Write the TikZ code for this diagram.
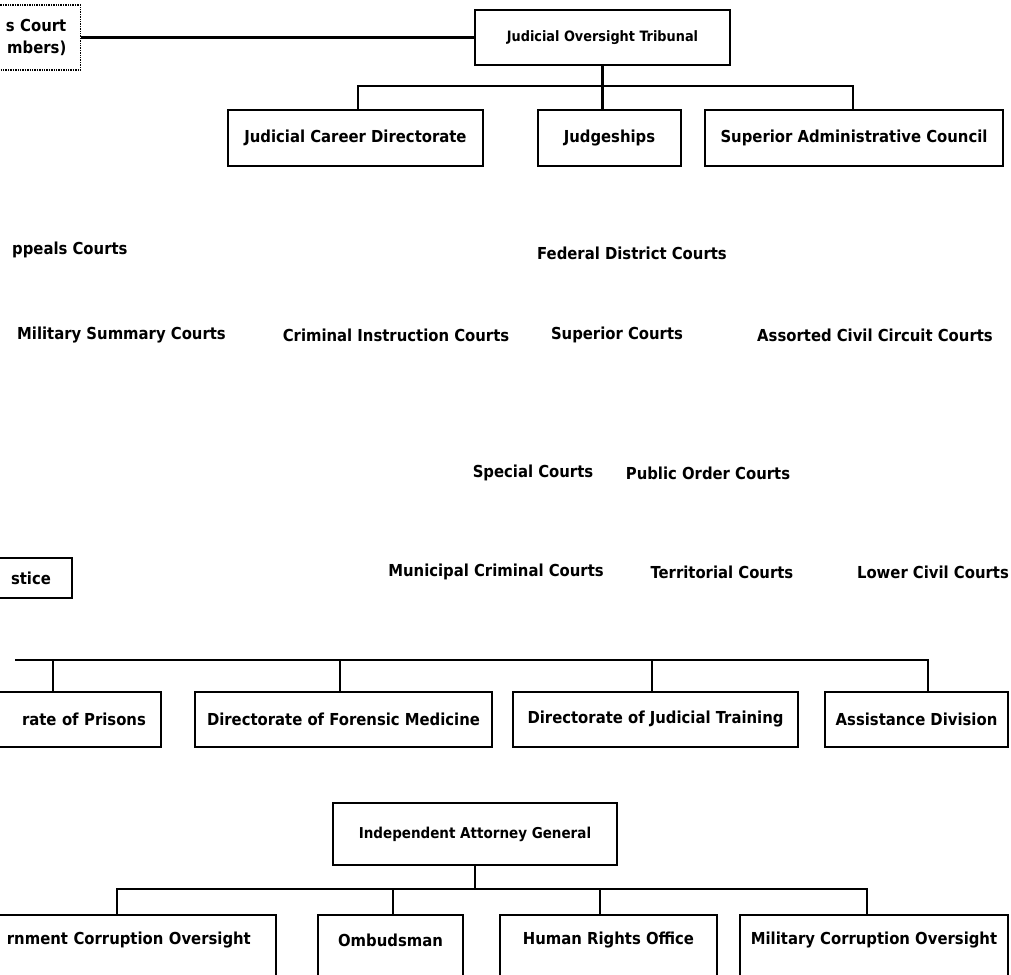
\documentclass[tikz,border=0pt]{standalone}
\usepackage{fontspec}
\setmainfont{DejaVu Sans Condensed}[BoldFont=DejaVu Sans Condensed Bold]
\begin{document}
\tikzset{
  txt/.style={inner sep=0pt, font=\fontsize{16.5}{19}\selectfont\bfseries},
  box/.style={txt, draw, line width=2.2pt},
  dotbox/.style={txt, draw, densely dotted, line width=1.4pt},
  conn/.style={line width=2.2pt},
}
\begin{tikzpicture}[x=1pt,y=-1pt]
\useasboundingbox (0,0) rectangle (1011,974);

% ---- top: tribunal and its three units
\node[dotbox, anchor=east, text width=150, align=right, inner xsep=14pt,
      minimum height=65, font=\fontsize{16.5}{22}\selectfont\bfseries] (court) at (81,37.5) {s Court\\mbers)};
\node[box, minimum width=255, minimum height=55, font=\fontsize{14.3}{17}\selectfont\bfseries] (trib) at (602.5,37.5) {Judicial Oversight Tribunal};
\node[box, minimum width=255, minimum height=56] (jcd) at (355.5,138) {Judicial Career Directorate};
\node[box, minimum width=143, minimum height=56] (judg) at (609.5,138) {Judgeships};
\node[box, minimum width=298, minimum height=56] (sac) at (854,138) {Superior Administrative Council};

\draw[conn] (court.east) -- (trib.west);
\draw[conn] (trib.south) -- (trib.south |- judg.north);
\coordinate (d1) at (358,86);
\coordinate (d3) at (853,86);
\draw[conn] (d1 |- jcd.north) -- (d1) -- (d3) -- (d3 |- sac.north);

% ---- courts (unboxed labels)
\node[txt, anchor=west] (appeals) at (12,250) {ppeals Courts};
\node[txt] (fed) at (632,253) {Federal District Courts};
\node[txt, anchor=west] (mil) at (17,335) {Military Summary Courts};
\node[txt] (crim) at (396,335) {Criminal Instruction Courts};
\node[txt] (sup) at (617,335) {Superior Courts};
\node[txt] (assorted) at (875,335) {Assorted Civil Circuit Courts};
\node[txt] (special) at (533,473) {Special Courts};
\node[txt] (public) at (708,473) {Public Order Courts};
\node[txt] (muni) at (496,572) {Municipal Criminal Courts};
\node[txt] (terr) at (722,572) {Territorial Courts};
\node[txt] (lower) at (933,572) {Lower Civil Courts};

% ---- ministry and directorates
\node[box, anchor=east, text width=150, align=right, inner xsep=21pt, minimum height=40] (just) at (73,578) {stice};
\node[box, anchor=east, text width=200, align=right, inner xsep=15pt, minimum height=55] (prisons) at (162,719.5) {rate of Prisons};
\node[box, minimum width=297, minimum height=55] (forensic) at (343.5,719.5) {Directorate of Forensic Medicine};
\node[box, minimum width=285, minimum height=55] (training) at (655.5,719.5) {Directorate of Judicial Training};
\node[box, minimum width=183, minimum height=55] (assist) at (916.5,719.5) {Assistance Division};

\coordinate (barL) at (15,660);
\coordinate (dP) at (53,660);
\coordinate (dF) at (340,660);
\coordinate (dT) at (652,660);
\coordinate (dA) at (928,660);
\draw[conn] (barL) -- (dA) -- (dA |- assist.north);
\draw[conn] (dP) -- (dP |- prisons.north);
\draw[conn] (dF) -- (dF |- forensic.north);
\draw[conn] (dT) -- (dT |- training.north);

% ---- attorney general
\node[box, minimum width=284, minimum height=62, font=\fontsize{15}{17}\selectfont\bfseries] (iag) at (475,834) {Independent Attorney General};
\node[txt, anchor=east, text width=300, align=right, inner xsep=25pt, minimum height=50] (gov) at (276,940) {rnment Corruption Oversight};
\node[txt, minimum width=145, minimum height=50] (ombud) at (390.5,940) {Ombudsman};
\node[txt, minimum width=217, minimum height=50] (hr) at (608.5,940) {Human Rights Office};
\node[txt, minimum width=268, minimum height=50] (mco) at (874,940) {Military Corruption Oversight};

\draw[conn] ([yshift=-30pt]gov.south east) -- (gov.north east) -- (gov.north west);
\foreach \n in {ombud,hr,mco}
  \draw[conn] ([yshift=-30pt]\n.south west) -- (\n.north west) -- (\n.north east) -- ([yshift=-30pt]\n.south east);

\coordinate (bar3) at (0,889);
\coordinate (dG) at (117,889);
\coordinate (dO) at (393,889);
\coordinate (dH) at (600,889);
\coordinate (dM) at (867,889);
\draw[conn] (iag.south) -- (iag.south |- bar3);
\draw[conn] (dG |- gov.north) -- (dG) -- (dM) -- (dM |- mco.north);
\draw[conn] (dO) -- (dO |- ombud.north);
\draw[conn] (dH) -- (dH |- hr.north);
\end{tikzpicture}
\end{document}
